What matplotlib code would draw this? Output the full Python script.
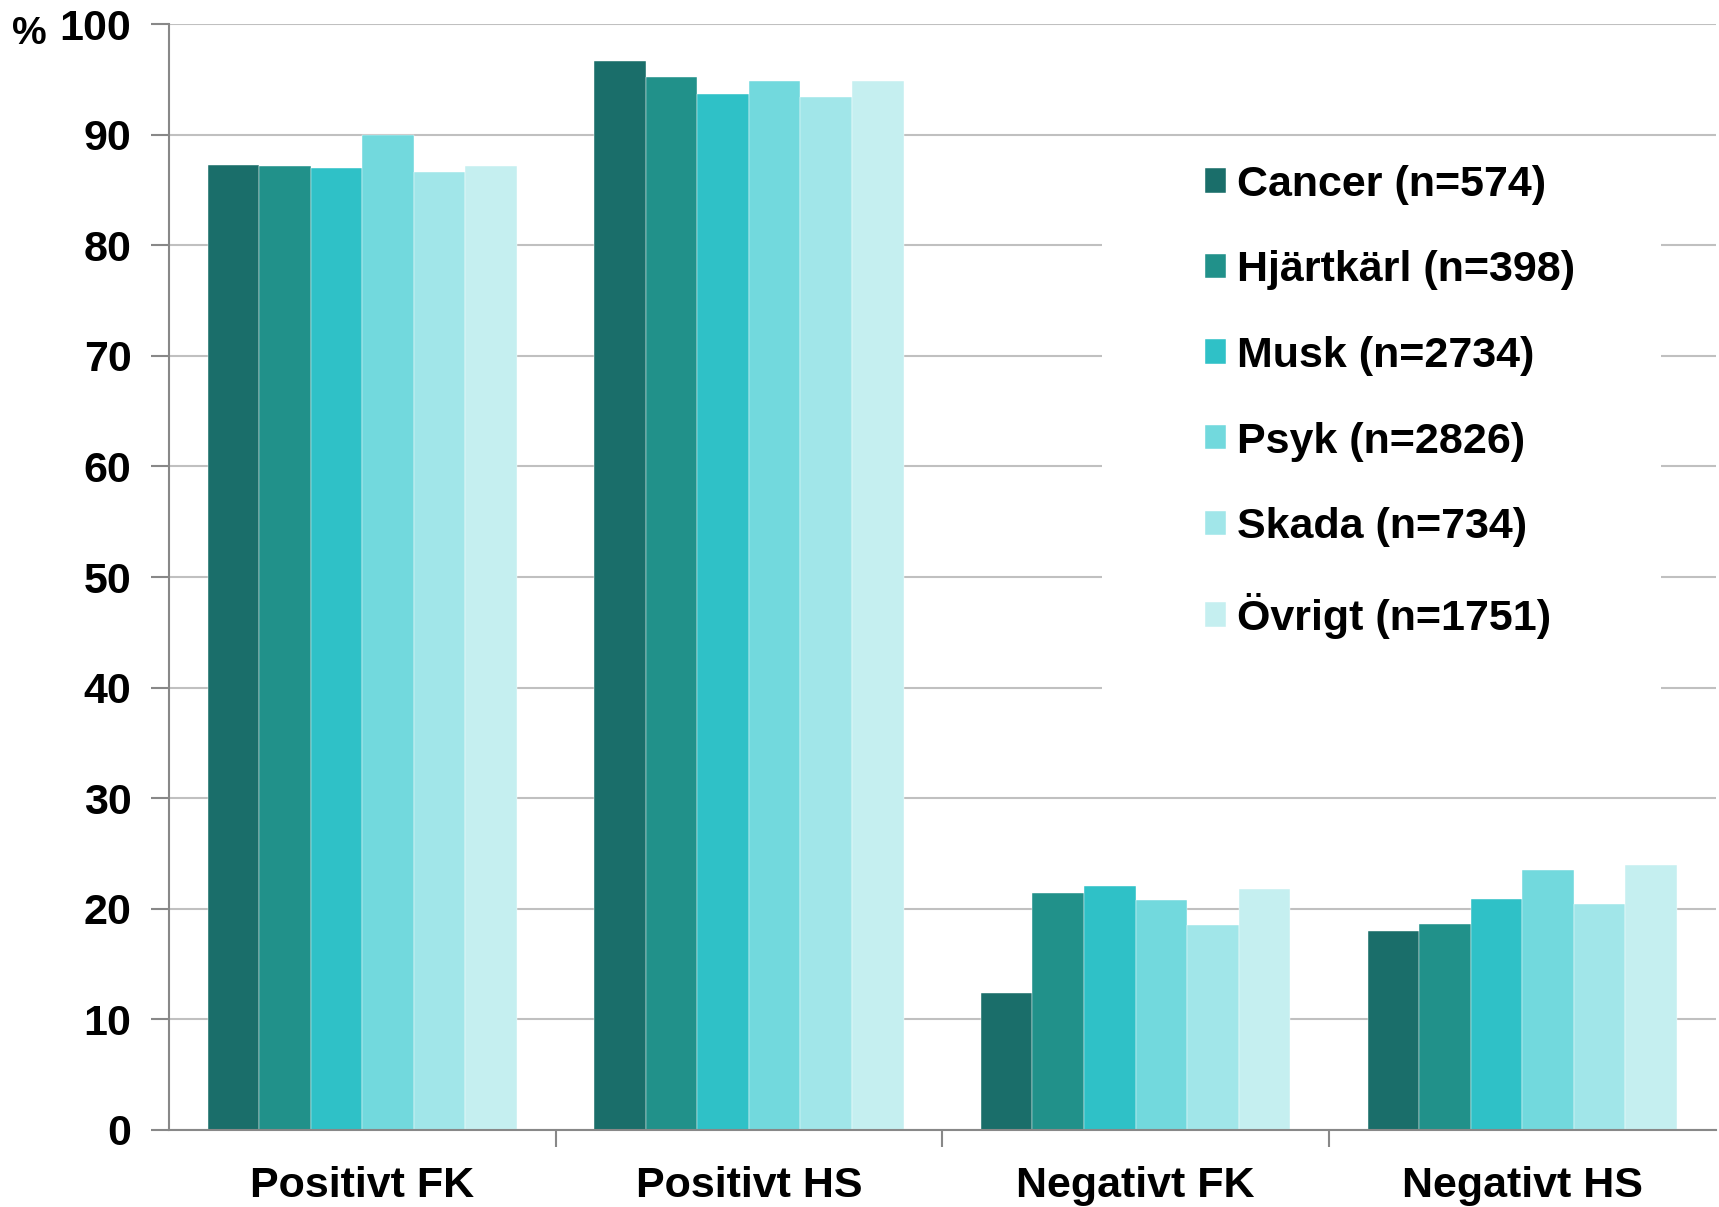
import matplotlib.pyplot as plt
import numpy as np
from matplotlib.patches import Rectangle

# data
categories = ['Positivt FK', 'Positivt HS', 'Negativt FK', 'Negativt HS']
series = ['Cancer (n=574)', 'Hjärtkärl (n=398)', 'Musk (n=2734)',
          'Psyk (n=2826)', 'Skada (n=734)', 'Övrigt (n=1751)']
cancer = [87.3, 96.7, 12.4, 18.0]
hjartkarl = [87.2, 95.2, 21.4, 18.6]
musk = [87.0, 93.7, 22.1, 20.9]
psyk = [90.0, 94.9, 20.8, 23.5]
skada = [86.6, 93.4, 18.5, 20.4]
ovrigt = [87.2, 94.9, 21.8, 24.0]
values = [cancer, hjartkarl, musk, psyk, skada, ovrigt]
colors = ['#1a6e6a', '#21918a', '#2fc1c7', '#72d9dd', '#a1e6e9', '#c5eff0']

plt.rcParams['font.family'] = ['Liberation Sans', 'DejaVu Sans']
plt.rcParams['font.weight'] = 'bold'

fig = plt.figure(figsize=(17.19, 12.07), dpi=100)
ax = fig.add_axes([0.0983, 0.0638, 0.8997, 0.9162])

x = np.arange(len(categories))
w = 0.8 / len(series)
for i, (vals, c, lab) in enumerate(zip(values, colors, series)):
    ax.bar(x + (i - 2.5) * w, vals, w, color=c, label=lab, zorder=2,
           edgecolor='white', linewidth=0.3)

ax.set_xlim(-0.5, 3.5)
ax.set_ylim(0, 100)
ax.set_yticks(range(0, 101, 10))
ax.yaxis.grid(True, color='#c0c0c0', linewidth=1.5, zorder=0)
ax.set_axisbelow(True)

ax.set_xticks(x)
ax.set_xticklabels(categories, fontsize=31, fontweight='bold')
ax.set_xticks(np.arange(0.5, 3.5, 1), minor=True)
ax.tick_params(axis='x', which='major', length=0, pad=26)
ax.tick_params(axis='x', which='minor', length=12, width=1.5, color='#888888')
ax.tick_params(axis='y', labelsize=31, length=13, width=1.5, color='#888888', pad=14)
for lab in ax.get_yticklabels():
    lab.set_fontweight('bold')

for s in ['top', 'right']:
    ax.spines[s].set_visible(False)
for s in ['left', 'bottom']:
    ax.spines[s].set_color('#888888')
    ax.spines[s].set_linewidth(1.5)

fig.text(0.007, 0.972, '%', fontsize=28, fontweight='bold', va='center', ha='left')

# white box behind legend (hides gridlines)
ax.add_patch(Rectangle((0.603, 0.36), 0.3615, 0.50, transform=ax.transAxes,
                       facecolor='white', edgecolor='none', zorder=1))

leg = ax.legend(loc='upper left', bbox_to_anchor=(0.6697, 0.873), fontsize=31,
                frameon=False, borderaxespad=0, borderpad=0,
                handlelength=0.5, handleheight=0.5, handletextpad=0.25,
                labelspacing=1.06)
for t in leg.get_texts():
    t.set_fontweight('bold')

fig.savefig('out.png', dpi=100)
